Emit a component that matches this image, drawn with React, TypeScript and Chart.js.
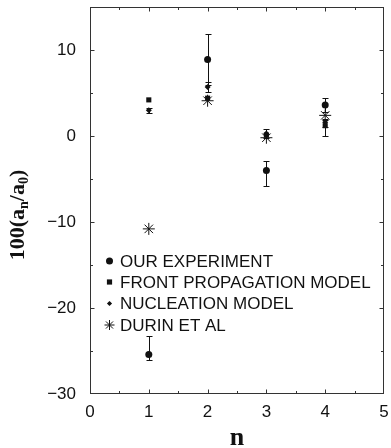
import React, { useEffect, useRef } from 'react';
import { Chart, registerables } from 'chart.js';
Chart.register(...registerables);

// ---- data ----
const nValues = [1, 2, 3, 4];
const ourExperiment = [-25.4, 8.9, -4.0, 3.6];
const ourErrLow = [-26.0, 5.9, -5.8, 2.8];
const ourErrHigh = [-23.3, 11.9, -2.9, 4.4];
const frontPropagation = [4.2, 4.4, 0.1, 1.2];
const frontErrLow = [4.2, 4.4, 0.1, 0.0];
const frontErrHigh = [4.2, 4.4, 0.1, 2.0];
const nucleation = [3.0, 5.7, 0.3, 1.6];
const nucErrLow = [2.7, 5.1, -0.2, 1.0];
const nucErrHigh = [3.3, 6.3, 0.8, 1.9];
const durin = [-10.8, 4.1, -0.2, 2.4];
const seriesLabels = ['OUR EXPERIMENT', 'FRONT PROPAGATION MODEL', 'NUCLEATION MODEL', 'DURIN ET AL'];
const xTickValues = [0, 1, 2, 3, 4, 5];
const yTickValues = [-30, -20, -10, 0, 10];

const INK = '#111';
const AXIS = '#333';
const SANS = '"Liberation Sans", Arial, Helvetica, sans-serif';
const SERIF = '"Liberation Serif", "Times New Roman", Times, serif';

function drawMarker(ctx: CanvasRenderingContext2D, style: string, x: number, y: number, r: number) {
  ctx.save();
  ctx.fillStyle = INK;
  ctx.strokeStyle = INK;
  ctx.lineWidth = 1;
  ctx.beginPath();
  if (style === 'circle') {
    ctx.arc(x, y, r, 0, Math.PI * 2);
    ctx.fill();
  } else if (style === 'rect') {
    ctx.fillRect(x - r, y - r, 2 * r, 2 * r);
  } else if (style === 'rectRot') {
    ctx.moveTo(x, y - r);
    ctx.lineTo(x + r, y);
    ctx.lineTo(x, y + r);
    ctx.lineTo(x - r, y);
    ctx.closePath();
    ctx.fill();
  } else if (style === 'star') {
    for (let k = 0; k < 4; k++) {
      const a = (k * Math.PI) / 4;
      ctx.moveTo(x - Math.cos(a) * r, y - Math.sin(a) * r);
      ctx.lineTo(x + Math.cos(a) * r, y + Math.sin(a) * r);
    }
    ctx.stroke();
  }
  ctx.restore();
}

const zeroPad = (s: any) => {
  s.paddingTop = 0;
  s.paddingBottom = 0;
  s.paddingLeft = 0;
  s.paddingRight = 0;
};

export default function App() {
  const ref = useRef<HTMLCanvasElement>(null);

  useEffect(() => {
    const canvas = ref.current!;
    const mk = (arr: number[]) => nValues.map((n, i) => ({ x: n, y: arr[i] }));

    const errorBars = {
      id: 'errorBars',
      beforeDatasetsDraw(chart: any) {
        const { ctx, scales } = chart;
        const xs = scales.x;
        const ys = scales.y;
        const sets = [
          [ourErrLow, ourErrHigh],
          [frontErrLow, frontErrHigh],
          [nucErrLow, nucErrHigh],
        ];
        ctx.save();
        ctx.strokeStyle = INK;
        ctx.lineWidth = 1;
        sets.forEach(([lo, hi]) => {
          nValues.forEach((n, i) => {
            if (hi[i] - lo[i] < 0.05) return;
            const px = Math.round(xs.getPixelForValue(n)) + 0.5;
            const y1 = Math.round(ys.getPixelForValue(lo[i])) + 0.5;
            const y2 = Math.round(ys.getPixelForValue(hi[i])) + 0.5;
            ctx.beginPath();
            ctx.moveTo(px, y1);
            ctx.lineTo(px, y2);
            ctx.moveTo(px - 3, y1);
            ctx.lineTo(px + 3, y1);
            ctx.moveTo(px - 3, y2);
            ctx.lineTo(px + 3, y2);
            ctx.stroke();
          });
        });
        ctx.restore();
      },
    };

    const frame = {
      id: 'frame',
      afterDraw(chart: any) {
        const { ctx, chartArea: a, scales } = chart;
        const xs = scales.x;
        const ys = scales.y;
        ctx.save();
        ctx.strokeStyle = AXIS;
        ctx.lineWidth = 1;
        const L = Math.round(a.left) + 0.5;
        const R = Math.round(a.right) - 0.5;
        const T = Math.round(a.top) + 0.5;
        const B = Math.round(a.bottom) - 0.5;
        ctx.strokeRect(L, T, R - L, B - T);
        ctx.beginPath();
        for (let v = 0.5; v < 5; v += 0.5) {
          const len = Number.isInteger(v) ? 4 : 2.5;
          const px = Math.round(xs.getPixelForValue(v)) + 0.5;
          ctx.moveTo(px, B);
          ctx.lineTo(px, B - len);
          ctx.moveTo(px, T);
          ctx.lineTo(px, T + len);
        }
        for (let v = -25; v < 15; v += 5) {
          const len = v % 10 === 0 ? 4 : 2.5;
          const py = Math.round(ys.getPixelForValue(v)) + 0.5;
          ctx.moveTo(L, py);
          ctx.lineTo(L + len, py);
          ctx.moveTo(R, py);
          ctx.lineTo(R - len, py);
        }
        ctx.stroke();

        // legend
        const styles = ['circle', 'rect', 'rectRot', 'star'];
        const sizes = [3.5, 2.6, 2.6, 5];
        const rows = [261, 282, 303.5, 325];
        ctx.font = '17px ' + SANS;
        ctx.fillStyle = INK;
        ctx.textBaseline = 'middle';
        ctx.textAlign = 'left';
        seriesLabels.forEach((lab, i) => {
          drawMarker(ctx, styles[i], 109.5, rows[i], sizes[i]);
          ctx.fillStyle = INK;
          ctx.fillText(lab, 120, rows[i] + 1);
        });

        // y title with subscripts
        ctx.save();
        ctx.translate(17, 215);
        ctx.rotate(-Math.PI / 2);
        const big = 'bold 22px ' + SERIF;
        const small = 'bold 14px ' + SERIF;
        const parts: [string, string, number][] = [
          ['100(a', big, 0],
          ['n', small, 4],
          ['/a', big, 0],
          ['0', small, 4],
          [')', big, 0],
        ];
        let total = 0;
        parts.forEach(([t, f]) => {
          ctx.font = f;
          total += ctx.measureText(t).width;
        });
        let cx = -total / 2;
        ctx.textBaseline = 'alphabetic';
        ctx.fillStyle = INK;
        parts.forEach(([t, f, dy]) => {
          ctx.font = f;
          ctx.fillText(t, cx, 7 + dy);
          cx += ctx.measureText(t).width;
        });
        ctx.restore();

        // x title
        ctx.font = 'bold 26px ' + SERIF;
        ctx.textAlign = 'center';
        ctx.textBaseline = 'alphabetic';
        ctx.fillText('n', (a.left + a.right) / 2, 445);
        ctx.restore();
      },
    };

    const chart = new Chart(canvas, {
      type: 'scatter',
      data: {
        datasets: [
          {
            label: seriesLabels[0],
            data: mk(ourExperiment),
            pointStyle: 'circle',
            radius: 3.5,
            backgroundColor: INK,
            borderColor: INK,
            borderWidth: 0,
          },
          {
            label: seriesLabels[1],
            data: mk(frontPropagation),
            pointStyle: 'rect',
            radius: 3.6,
            backgroundColor: INK,
            borderColor: INK,
            borderWidth: 0,
          },
          {
            label: seriesLabels[2],
            data: mk(nucleation),
            pointStyle: 'rectRot',
            radius: 3,
            backgroundColor: INK,
            borderColor: INK,
            borderWidth: 0,
          },
          {
            label: seriesLabels[3],
            data: mk(durin),
            pointStyle: 'star',
            radius: 6,
            backgroundColor: INK,
            borderColor: INK,
            borderWidth: 1,
          },
        ] as any,
      },
      options: {
        responsive: false,
        animation: false,
        events: [],
        layout: { padding: { top: 5, right: 4, left: 0, bottom: 0 } },
        plugins: { legend: { display: false }, tooltip: { enabled: false }, title: { display: false } },
        scales: {
          x: {
            type: 'linear',
            min: 0,
            max: 5,
            afterFit: (s: any) => {
              s.height = 54;
              zeroPad(s);
            },
            afterBuildTicks: (s: any) => {
              s.ticks = xTickValues.map((v) => ({ value: v }));
            },
            grid: { display: false, drawTicks: false },
            border: { display: false },
            ticks: {
              padding: 8,
              autoSkip: false,
              maxRotation: 0,
              color: INK,
              font: { family: SANS, size: 17 },
              callback: (v: any) => String(v),
            },
          },
          y: {
            type: 'linear',
            min: -30,
            max: 15,
            afterFit: (s: any) => {
              s.width = 90;
              zeroPad(s);
            },
            afterBuildTicks: (s: any) => {
              s.ticks = yTickValues.map((v) => ({ value: v }));
            },
            grid: { display: false, drawTicks: false },
            border: { display: false },
            ticks: {
              padding: 14,
              autoSkip: false,
              color: INK,
              font: { family: SANS, size: 17 },
              callback: (v: any) => (v < 0 ? '\u2212' + Math.abs(v) : String(v)),
            },
          },
        },
      } as any,
      plugins: [errorBars, frame],
    });
    return () => chart.destroy();
  }, []);

  return (
    <div style={{ position: 'absolute', left: 0, top: 0, width: 391, height: 448, background: '#fff' }}>
      <canvas ref={ref} width={391} height={448} style={{ display: 'block', width: 391, height: 448 }} />
    </div>
  );
}
